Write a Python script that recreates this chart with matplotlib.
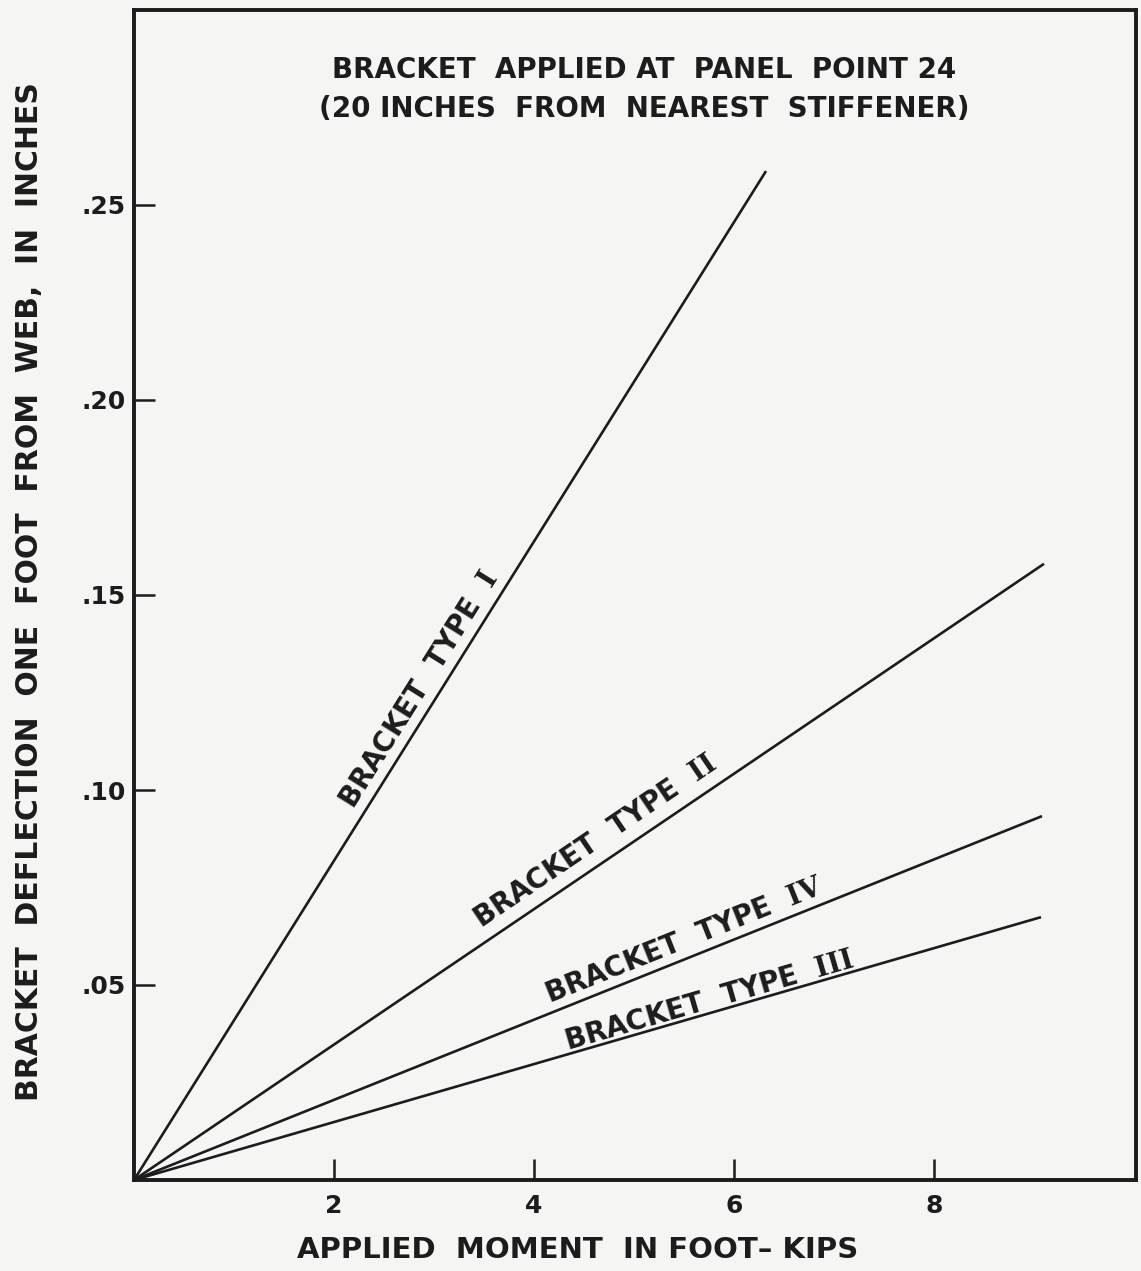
import math
import matplotlib
matplotlib.use("Agg")
import matplotlib.pyplot as plt

# Bracket deflection vs. applied moment (straight lines from the origin)
type_i_moment = [0.0, 6.32]
type_i_deflection = [0.0, 0.2587]
type_ii_moment = [0.0, 9.10]
type_ii_deflection = [0.0, 0.1580]
type_iv_moment = [0.0, 9.08]
type_iv_deflection = [0.0, 0.0933]
type_iii_moment = [0.0, 9.07]
type_iii_deflection = [0.0, 0.0674]

x_ticks = [2, 4, 6, 8]
x_tick_labels = ["2", "4", "6", "8"]
y_ticks = [0.05, 0.10, 0.15, 0.20, 0.25]
y_tick_labels = [".05", ".10", ".15", ".20", ".25"]

plt.rcParams["font.family"] = ["DejaVu Sans"]
plt.rcParams["font.weight"] = "bold"
plt.rcParams["mathtext.fontset"] = "dejavuserif"

ink = "#1c1c1c"
paper = "#f5f5f3"

W, H = 1141, 1271
fig = plt.figure(figsize=(W / 100, H / 100), dpi=100, facecolor=paper)
ax = fig.add_axes([134 / W, 1 - 1180 / H, (1136 - 134) / W, (1180 - 10) / H])
ax.set_facecolor(paper)
ax.set_xlim(0, 10.02)
ax.set_ylim(0, 0.300)

for side in ("left", "bottom", "top", "right"):
    ax.spines[side].set_linewidth(2.8)
    ax.spines[side].set_color(ink)

ax.set_xticks(x_ticks)
ax.set_xticklabels(x_tick_labels)
ax.set_yticks(y_ticks)
ax.set_yticklabels(y_tick_labels)
ax.tick_params(axis="both", direction="in", length=15, width=1.8, color=ink,
               labelsize=18, labelcolor=ink)
ax.tick_params(axis="x", pad=10)
ax.tick_params(axis="y", pad=6)

series = [
    (type_i_moment, type_i_deflection, r"BRACKET  TYPE  $\mathbf{I}$", (2.85, 0.1258)),
    (type_ii_moment, type_ii_deflection, r"BRACKET  TYPE  $\mathbf{II}$", (4.61, 0.0870)),
    (type_iv_moment, type_iv_deflection, r"BRACKET  TYPE  $\mathbf{IV}$", (5.50, 0.0614)),
    (type_iii_moment, type_iii_deflection, r"BRACKET  TYPE  $\mathbf{III}$", (5.75, 0.0461)),
]

for xs, ys, label, (lx, ly) in series:
    ax.plot(xs, ys, color=ink, linewidth=1.9, solid_capstyle="butt", clip_on=False)
    p0 = ax.transData.transform((xs[0], ys[0]))
    p1 = ax.transData.transform((xs[-1], ys[-1]))
    angle = math.degrees(math.atan2(p1[1] - p0[1], p1[0] - p0[0]))
    ax.text(lx, ly, label, rotation=angle, rotation_mode="anchor",
            ha="center", va="center", fontsize=20, fontweight="bold", color=ink)

fig.text(644 / W, 1 - 70 / H, "BRACKET  APPLIED AT  PANEL  POINT 24",
         ha="center", va="center", fontsize=20, fontweight="bold", color=ink)
fig.text(644 / W, 1 - 109 / H, "(20 INCHES  FROM  NEAREST  STIFFENER)",
         ha="center", va="center", fontsize=20, fontweight="bold", color=ink)

fig.text(578 / W, 1 - 1250 / H, "APPLIED  MOMENT  IN FOOT\u2013 KIPS",
         ha="center", va="center", fontsize=21, fontweight="bold", color=ink)
fig.text(30 / W, 1 - 592 / H, "BRACKET  DEFLECTION  ONE  FOOT  FROM  WEB,  IN  INCHES",
         ha="center", va="center", rotation=90, fontsize=21.5, fontweight="bold",
         color=ink)

fig.savefig("out.png", dpi=100, facecolor=paper)
